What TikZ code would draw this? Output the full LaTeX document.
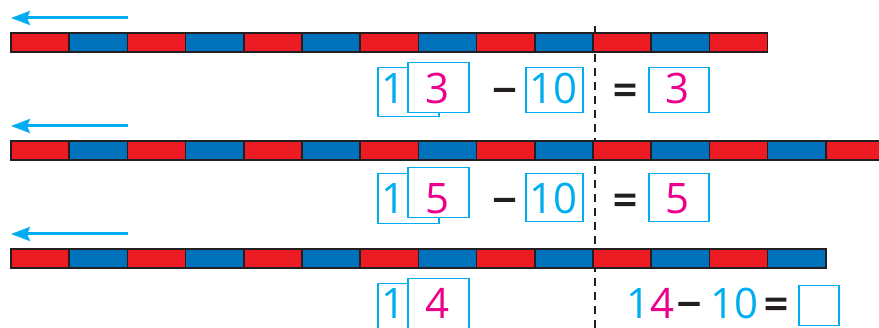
\documentclass[tikz,border=0pt]{standalone}
\usepackage{fontspec}
\setmainfont{Open Sans}
\newfontfamily\signfont{Open Sans}[FakeBold=2.5]
\usetikzlibrary{arrows.meta}
\definecolor{barred}{RGB}{237,28,36}
\definecolor{barblue}{RGB}{0,114,188}
\definecolor{cyanx}{RGB}{0,174,239}
\definecolor{magx}{RGB}{236,0,140}
\definecolor{darkx}{RGB}{35,31,32}
\tikzset{
  seg/.style={draw=darkx,line width=1.5pt},
  numbox/.style={draw=cyanx,line width=1.5pt,fill=white,inner sep=0pt,anchor=north west},
  dig/.style={font=\fontsize{42}{42}\selectfont,inner sep=0pt,anchor=base},
  opsign/.style={font=\fontsize{43}{43}\signfont,inner sep=0pt,text=darkx,anchor=base},
  leftarrow/.style={draw=cyanx,line width=3pt,-{Stealth[length=19pt,width=14pt,inset=3pt]}},
}
\newcommand{\drawbar}[2]{% #1 = y top, #2 = number of segments
  \foreach \i in {1,...,#2}{
    \pgfmathsetmacro{\xa}{11+(\i-1)*58.2}
    \pgfmathsetmacro{\xb}{11+\i*58.2}
    \pgfmathtruncatemacro{\odd}{mod(\i,2)}
    \ifnum\odd=1 \def\segcol{barred}\else\def\segcol{barblue}\fi
    \filldraw[seg,fill=\segcol] (\xa,#1) rectangle (\xb,#1+19);
  }
}
\begin{document}
\begin{tikzpicture}[x=1pt,y=-1pt]
\useasboundingbox (0,0) rectangle (879,328);
% arrows
\coordinate (a1s) at (128,18); \coordinate (a1e) at (11,18);
\coordinate (a2s) at (128,126); \coordinate (a2e) at (11,126);
\coordinate (a3s) at (128,234); \coordinate (a3e) at (11,234);
\draw[leftarrow] (a1s) -- (a1e);
\draw[leftarrow] (a2s) -- (a2e);
\draw[leftarrow] (a3s) -- (a3e);
% dashed line (behind the bars)
\coordinate (dtop) at (595,26); \coordinate (dbot) at (595,328);
\draw[darkx,line width=1.8pt,dash pattern=on 8pt off 6pt] (dtop) -- (dbot);
% bars
\begin{scope}
\clip (0,0) rectangle (879,328);
\drawbar{33}{13}
\drawbar{141}{15}
\drawbar{249}{14}
\end{scope}
% row 1
\node[numbox,minimum width=61pt,minimum height=49pt] (b11) at (377,67) {};
\node[dig,text=cyanx] (t11) at (394,104) {1};
\node[numbox,minimum width=61pt,minimum height=50pt] (b13) at (407,62) {};
\node[dig,text=magx] (t13) at (437.5,104) {3};
\node[opsign] (m1) at (504.5,105) {−};
\node[numbox,minimum width=57pt,minimum height=45pt] (b110) at (525,67) {};
\node[dig,text=cyanx] (t110) at (553.5,104) {10};
\node[opsign] (e1) at (625,105) {=};
\node[numbox,minimum width=60pt,minimum height=45pt] (b1r) at (648,67) {};
\node[dig,text=magx] (t1r) at (678,104) {3};
% row 2
\node[numbox,minimum width=61pt,minimum height=50pt] (b21) at (377,173) {};
\node[dig,text=cyanx] (t21) at (394,214) {1};
\node[numbox,minimum width=61pt,minimum height=50pt] (b25) at (407,167) {};
\node[dig,text=magx] (t25) at (437.5,214) {5};
\node[opsign] (m2) at (504.5,215) {−};
\node[numbox,minimum width=57pt,minimum height=48pt] (b210) at (525,173) {};
\node[dig,text=cyanx] (t210) at (553.5,214) {10};
\node[opsign] (e2) at (625,215) {=};
\node[numbox,minimum width=60pt,minimum height=48pt] (b2r) at (648,173) {};
\node[dig,text=magx] (t2r) at (678,214) {5};
% row 3
\node[numbox,minimum width=61pt,minimum height=50pt] (b31) at (377,283) {};
\node[dig,text=cyanx] (t31) at (394,319) {1};
\node[numbox,minimum width=61pt,minimum height=55pt] (b34) at (407,278) {};
\node[dig,text=magx] (t34) at (437.5,319) {4};
\node[dig,anchor=base west,text=cyanx] (t3a) at (626,319) {1};
\node[dig,anchor=base west,text=magx] (t3b) at (t3a.base east) {4};
\node[opsign] (m3) at (689,319) {−};
\node[dig,anchor=base west,text=cyanx] (t3c) at (710,319) {10};
\node[opsign] (e3) at (776,319) {=};
\node[draw=cyanx,line width=1.5pt,inner sep=0pt,minimum width=40pt,minimum height=40pt,anchor=north west] (b3r) at (798,285) {};
\end{tikzpicture}
\end{document}
